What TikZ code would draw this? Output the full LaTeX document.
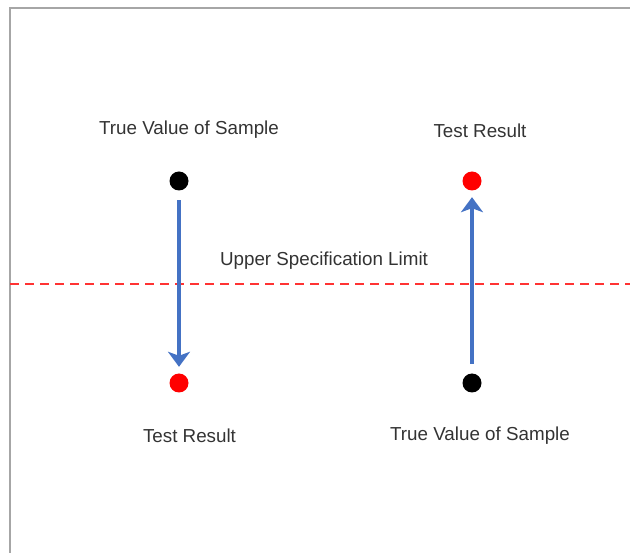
\documentclass[tikz,border=0pt]{standalone}
\usepackage{fontspec}
\setmainfont{Liberation Sans}
\usetikzlibrary{arrows.meta}
\definecolor{arrowblue}{HTML}{4472C4}
\definecolor{limitred}{HTML}{FF3333}
\begin{document}
\begin{tikzpicture}[x=1pt,y=-1pt,
  lbl/.style={anchor=base,inner sep=0pt,text=black!80,font=\fontsize{18.8}{22}\selectfont},
  blackdot/.style={circle,fill=black,minimum size=19pt,inner sep=0pt},
  reddot/.style={circle,fill=red,minimum size=19pt,inner sep=0pt},
  conn/.style={arrowblue,line width=3.5pt,-{Stealth[length=15pt,width=22pt,inset=4pt]},shorten <=9.5pt,shorten >=6.5pt},
  frameline/.style={draw=black!35,line width=2.5pt}]
\useasboundingbox (0,0) rectangle (630,553);
\draw[frameline] (10,553) -- (10,8) -- (630,8);
\draw[limitred,line width=2.5pt,dash pattern=on 9pt off 6pt] (10,284) -- (630,284);
\node[blackdot] (ltrue) at (179,181) {};
\node[reddot] (ltest) at (179,383) {};
\node[reddot] (rtest) at (472,181) {};
\node[blackdot] (rtrue) at (472,383) {};
\draw[conn] (ltrue) -- (ltest);
\draw[conn] (rtrue) -- (rtest);
\node[lbl] (ltruelbl) at (189,135) {True Value of Sample};
\node[lbl] (rtestlbl) at (480,138) {Test Result};
\node[lbl] (usl) at (324,266) {Upper Specification Limit};
\node[lbl] (ltestlbl) at (189.5,443) {Test Result};
\node[lbl] (rtruelbl) at (480,441) {True Value of Sample};
\end{tikzpicture}
\end{document}
